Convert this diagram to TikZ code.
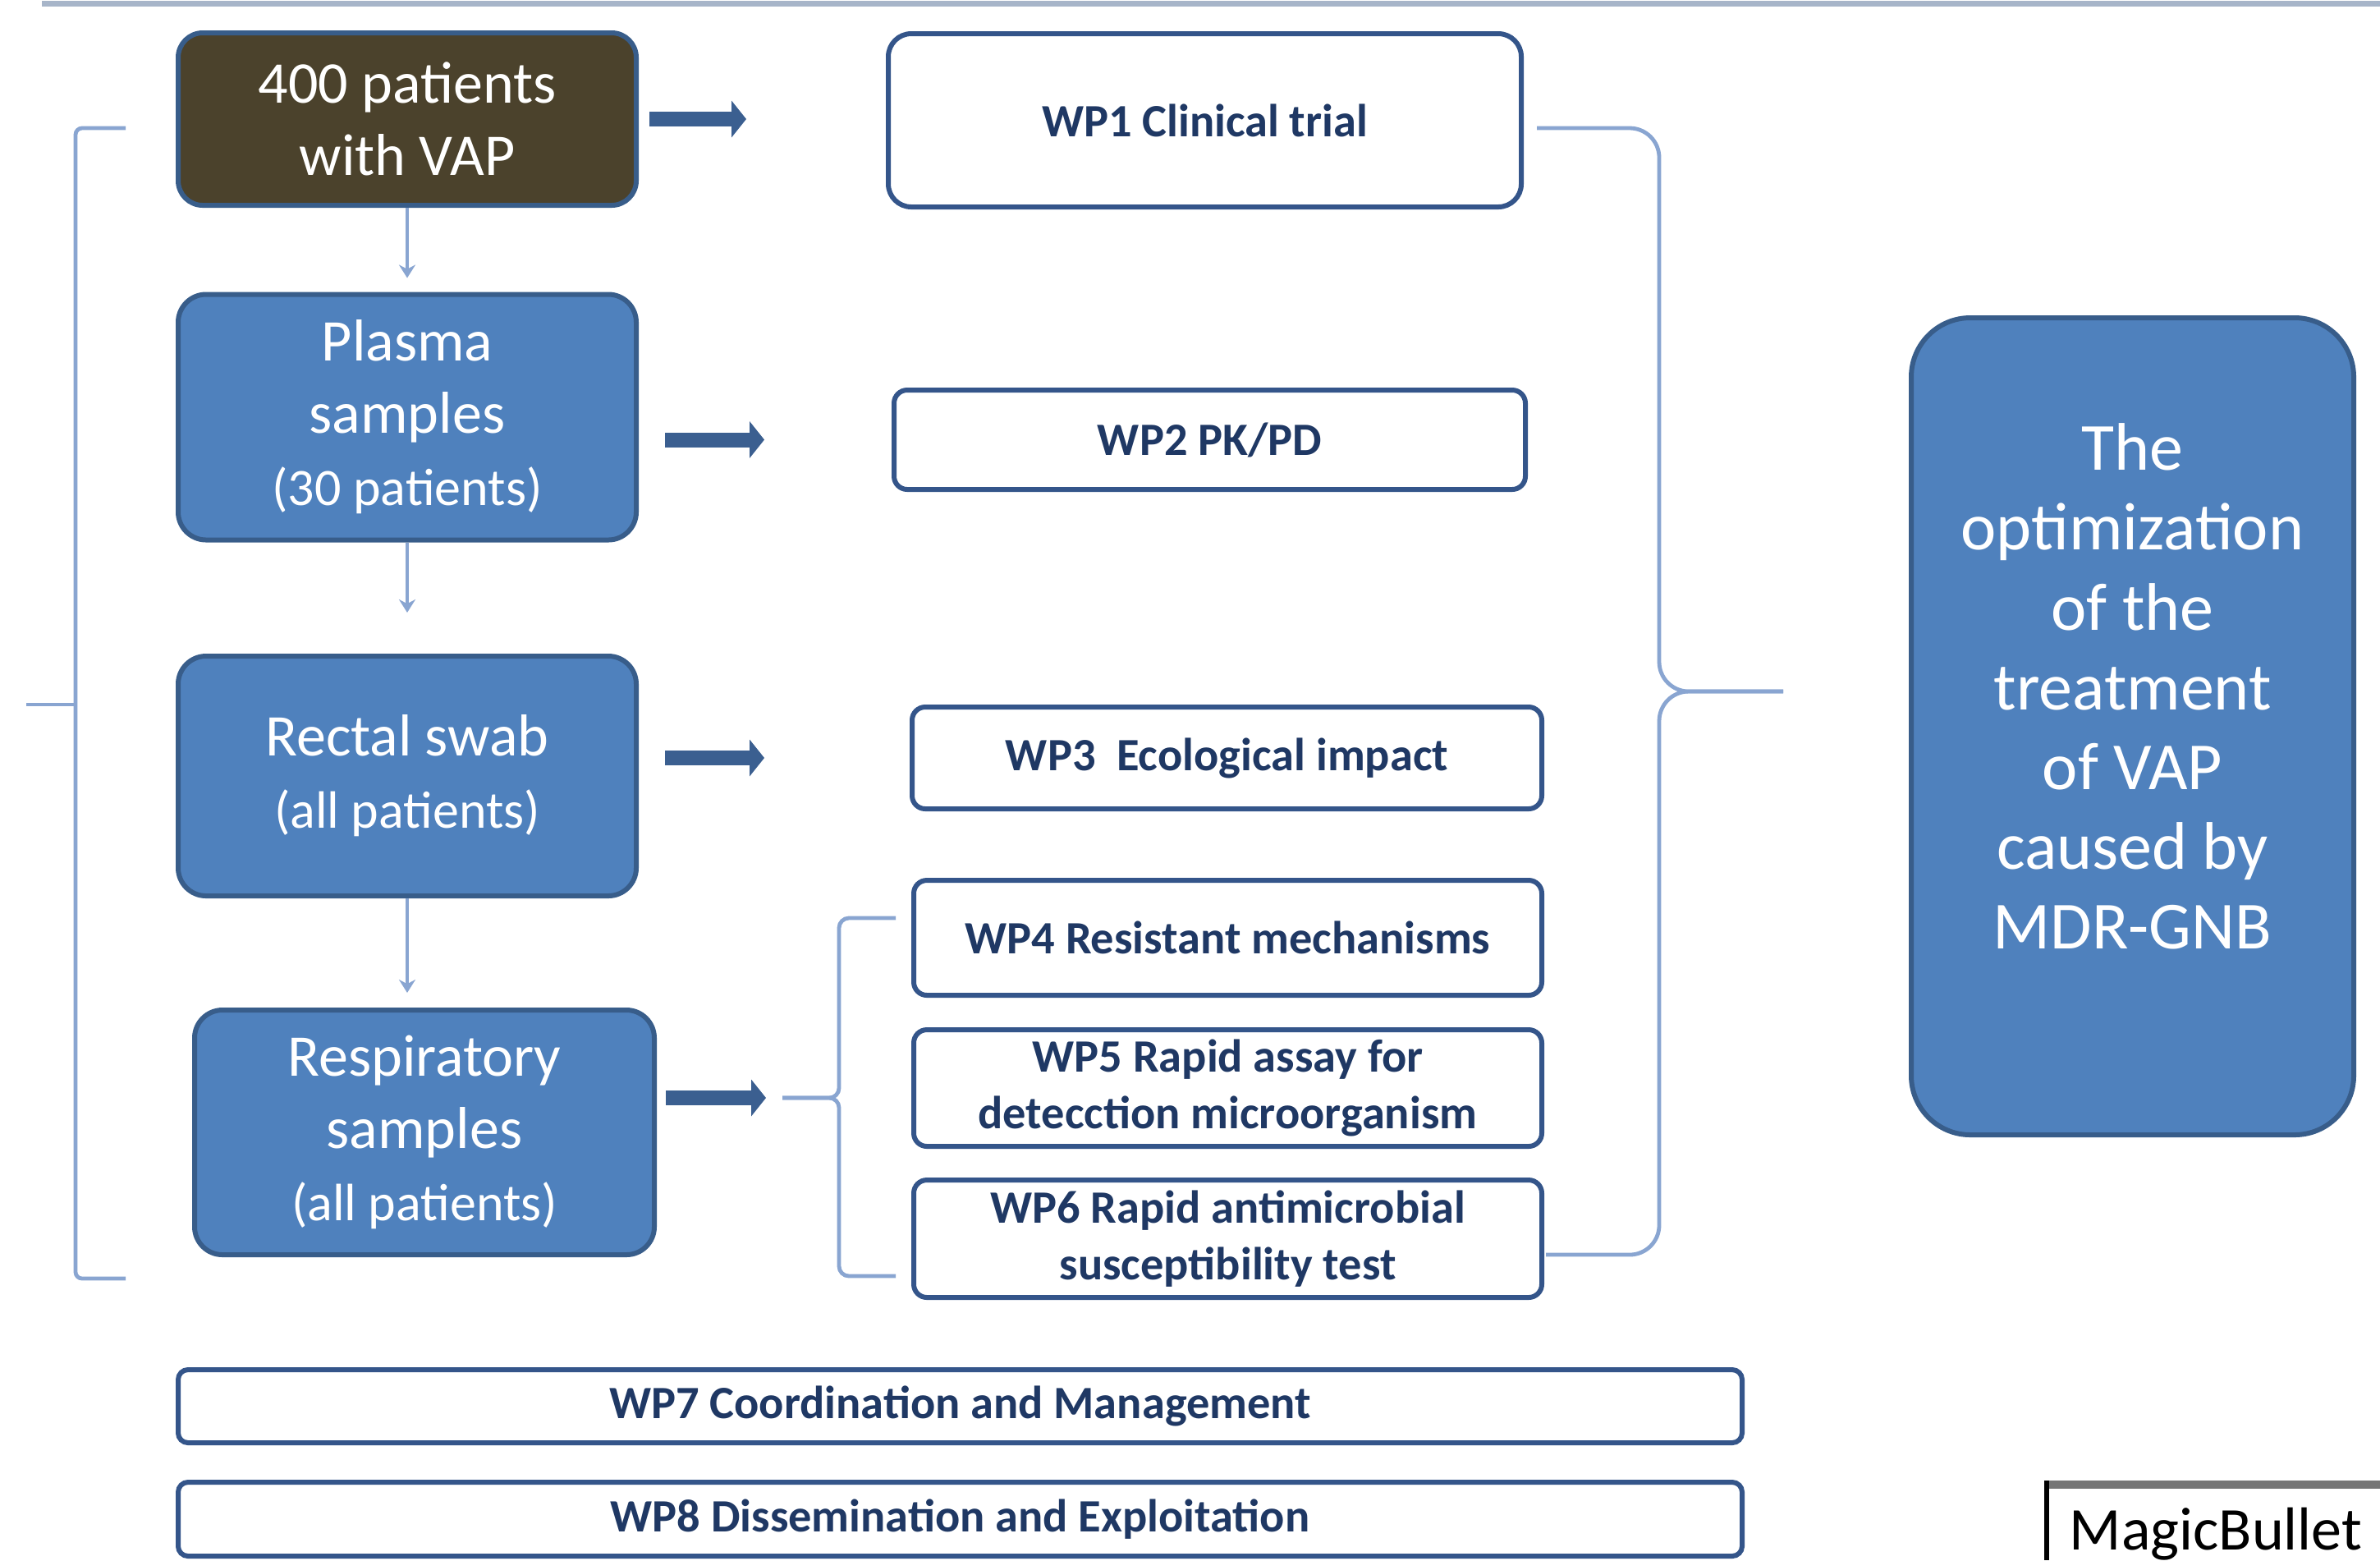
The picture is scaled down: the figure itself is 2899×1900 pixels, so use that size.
\documentclass[tikz,border=0pt]{standalone}
\usepackage{fontspec}
\setmainfont{Carlito}
\usetikzlibrary{arrows.meta}
\definecolor{boxblue}{HTML}{4F81BD}
\definecolor{boxedge}{HTML}{385D8A}
\definecolor{oliveb}{HTML}{4B422C}
\definecolor{wpedge}{HTML}{34558A}
\definecolor{wptext}{HTML}{1F3864}
\definecolor{thinblue}{HTML}{89A5D1}
\definecolor{arrowblue}{HTML}{3B5F90}
\definecolor{toplinec}{HTML}{A7B5C9}
\definecolor{mbgray}{HTML}{767676}
\begin{document}
\begin{tikzpicture}[x=0.25pt,y=-0.25pt,
 bluebox/.style={draw=boxedge, line width=1.5pt, fill=boxblue, rounded corners=8.5pt, inner sep=0pt, align=center, text=white, font=\fontsize{18}{22}\selectfont},
 startbox/.style={bluebox, fill=oliveb, rounded corners=7.5pt},
 wpbox/.style={draw=wpedge, line width=1.5pt, fill=white, rounded corners=4pt, inner sep=0pt, align=center, text=wptext, font=\bfseries\fontsize{14.1}{17.25}\selectfont},
 bigarrow/.style={draw=arrowblue, line width=4.5pt, -{Triangle[length=4.5pt,width=11pt]}},
 smallarrow/.style={draw=thinblue, line width=1.1pt, -{Stealth[length=4pt,width=5pt]}},
 braceline/.style={draw=thinblue, line width=1.2pt},
 ]
\useasboundingbox (0,0) rectangle (2899,1900);
\fill[white] (0,0) rectangle (2899,1900);

% top line
\draw[toplinec, line width=1.75pt] (51,4) -- (2899,4);

% left column
\node[startbox, minimum width=139.5pt, minimum height=52.5pt] (start) at (496,145) {400 patients\\with VAP};
\node[bluebox, minimum width=139.5pt, minimum height=74.75pt] (plasma) at (496,508) {Plasma\\samples\\{\fontsize{16}{19}\selectfont(30 patients)}};
\node[bluebox, minimum width=139.5pt, minimum height=73pt] (rectal) at (496,945) {Rectal swab\\{\fontsize{16}{19}\selectfont(all patients)}};
\node[bluebox, minimum width=140pt, minimum height=74.5pt] (resp) at (517,1379) {Respiratory\\samples\\{\fontsize{16}{19}\selectfont(all patients)}};

% work packages
\node[wpbox, rounded corners=7pt, minimum width=192.75pt, minimum height=52.75pt] (wp1) at (1467.5,146.5) {WP1 Clinical trial};
\node[wpbox, minimum width=192.25pt, minimum height=30.25pt] (wp2) at (1473.5,535.5) {WP2 PK/PD};
\node[wpbox, minimum width=191.75pt, minimum height=31pt] (wp3) at (1494.5,923) {WP3~~Ecological impact};
\node[wpbox, minimum width=191.25pt, minimum height=35pt] (wp4) at (1495.5,1142) {WP4 Resistant mechanisms};
\node[wpbox, minimum width=191.25pt, minimum height=35.5pt] (wp5) at (1495.5,1325) {WP5 Rapid assay for\\detecction microorganism};
\node[wpbox, minimum width=191.25pt, minimum height=35.75pt] (wp6) at (1495.5,1508.5) {WP6 Rapid antimicrobial\\susceptibility test};
\node[wpbox, rounded corners=3pt, minimum width=476.25pt, minimum height=22.25pt] (wp7) at (1169.5,1712.5) {WP7 Coordination and Management};
\node[wpbox, rounded corners=3pt, minimum width=476.25pt, minimum height=22.5pt] (wp8) at (1169.5,1850) {WP8 Dissemination and Exploitation};

% goal box
\node[bluebox, rounded corners=18pt, minimum width=134.75pt, minimum height=248.75pt] (goal) at (2597.5,884.5) {};
\node[align=center, text=white, inner sep=0pt, font=\fontsize{20.5}{24.3}\selectfont] (goaltext) at (2597.5,836) {The\\optimization\\of the\\treatment\\of VAP\\caused by\\MDR-GNB};

% thick arrows
\draw[bigarrow, shorten <=3.25pt, shorten >=42.5pt] (start.east) -- (start.east -| wp1.west);
\draw[bigarrow, shorten <=8pt, shorten >=38.75pt] (plasma.east |- wp2.west) -- (wp2.west);
\draw[bigarrow, shorten <=8pt, shorten >=44.25pt] (rectal.east |- wp3.west) -- (wp3.west);

% small brace for WP4-6
\coordinate (sbtop) at (1091,1118);
\coordinate (sbbot) at (1091,1554);
\coordinate (sbtip) at (953,1337);
\draw[bigarrow, shorten <=2.75pt, shorten >=5pt] (resp.east |- sbtip) -- (sbtip);
\draw[braceline, rounded corners=3pt] (sbtop) -- (1022,1118) -- (1022,1337) -- (sbtip);
\draw[braceline, rounded corners=3pt] (sbbot) -- (1022,1554) -- (1022,1337) -- (sbtip);

% down arrows
\draw[smallarrow, shorten >=4.25pt] (start.south) -- (plasma.north);
\draw[smallarrow, shorten >=12.5pt] (plasma.south) -- (rectal.north);
\draw[smallarrow, shorten >=4.5pt] (rectal.south) -- (rectal.south |- resp.north);

% big right brace
\coordinate (rbtop) at (1872,156);
\coordinate (rbbot) at (1883,1528);
\coordinate (rbtip) at (2172,842);
\draw[braceline, rounded corners=9pt] (rbtop) -- (2021,156) -- (2021,842) -- (rbtip);
\draw[braceline, rounded corners=9pt] (rbbot) -- (2021,1528) -- (2021,842) -- (rbtip);

% left bracket
\coordinate (lbtop) at (153,156);
\coordinate (lbbot) at (153,1557);
\coordinate (lbtip) at (32,858);
\draw[braceline, rounded corners=2pt] (lbtop) -- (92,156) -- (92,1557) -- (lbbot);
\draw[braceline] (lbtip) -- (92,858);

% MagicBullet label
\draw[mbgray, line width=2.5pt] (2490,1808) -- (2899,1808);
\draw[black, line width=1.5pt] (2493,1803) -- (2493,1900);
\node[anchor=base, inner sep=0pt, font=\fontsize{18.5}{22}\selectfont] (mb) at (2699,1887) {MagicBullet};
\end{tikzpicture}
\end{document}
